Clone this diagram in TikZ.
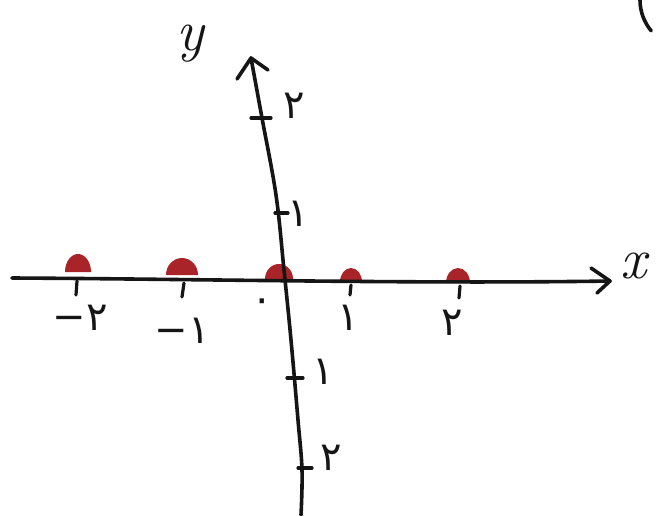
\documentclass[tikz,border=0pt]{standalone}
\usepackage{fontspec}
\newfontfamily\fa{DejaVu Sans}
\definecolor{dotred}{HTML}{A82428}
\definecolor{ink}{HTML}{151515}
\begin{document}
\begin{tikzpicture}[x=1pt,y=-1pt,
  axis/.style={line width=3.6pt,draw=ink,line cap=round,line join=round},
  tick/.style={line width=3.2pt,draw=ink,line cap=round},
  lbl/.style={font=\fa\fontsize{40}{40}\selectfont,text=ink,inner sep=0pt},
  var/.style={font=\itshape\fontsize{58}{58}\selectfont,text=ink,inner sep=0pt},
  dot/.style={fill=dotred}]
\useasboundingbox[fill=white] (0,0) rectangle (657,515);
% half dots
\foreach \cx/\cy/\rx/\ry in {78/272/13/18, 182/275/16/17, 279/279/14/15, 351/282/11/14, 458/283/12/15}
  \fill[dot] (\cx-\rx,\cy) arc[start angle=180,end angle=360,x radius=\rx,y radius=\ry] -- cycle;
% x axis
\coordinate (xs) at (12,278);
\coordinate (xe) at (610,281);
\draw[axis] (xs) .. controls (200,279) and (420,284) .. (xe);
\draw[axis] (591,268) -- (xe) -- (597,293);
% y axis
\coordinate (ys) at (251,58);
\coordinate (ye) at (301,515);
\draw[axis] plot[smooth,tension=0.6] coordinates {(ys) (262,118) (276,195) (284,270) (291,340) (298,420) (302,470) (ye)};
\draw[axis] (237,79) -- (ys) -- (268,70);
% x ticks
\draw[tick] (77,281) -- (76,295);
\draw[tick] (184,283) -- (182,297);
\draw[tick] (351,285) -- (350,295);
\draw[tick] (460,286) -- (459,298);
% y ticks
\draw[tick] (251,118) -- (271,118);
\draw[tick] (275,213) -- (288,213);
\draw[tick] (287,378) -- (303,378);
\draw[tick] (298,468) -- (312,468);
% labels
\node[lbl] (lm2) at (80,318) {−۲};
\node[lbl] (lm1) at (182,331) {−۱};
\node[lbl] (l0) at (262,306) {۰};
\node[lbl] (l1) at (348,318) {۱};
\node[lbl] (l2) at (452,323) {۲};
\node[lbl] (ly2) at (294,106) {۲};
\node[lbl] (ly1) at (298,214) {۱};
\node[lbl] (lyn1) at (323,372) {۱};
\node[lbl] (lyn2) at (331,458) {۲};
\node[var] (xl) at (634,266) {x};
\node[var] (yl) at (190,44) {y};
% partial circle top right
\draw[axis] (640,0) arc[start angle=180,end angle=140,radius=48];
\end{tikzpicture}
\end{document}
